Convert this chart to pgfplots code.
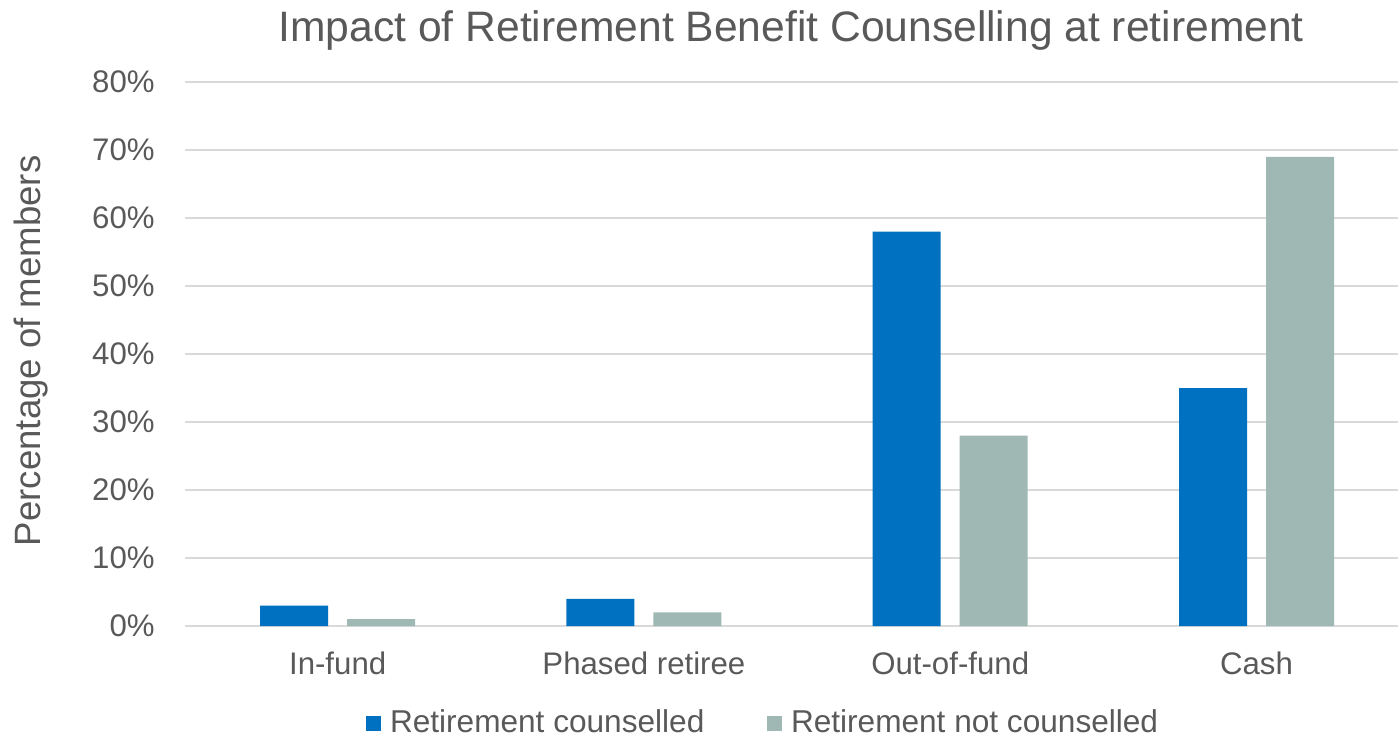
\documentclass[border=0pt]{standalone}
\usepackage{pgfplots}
\pgfplotsset{compat=1.18}
\usepackage{fontspec}
\setmainfont{Liberation Sans}
\definecolor{cblue}{HTML}{0070C0}
\definecolor{cgrey}{HTML}{9FB8B4}
\definecolor{txt}{HTML}{595959}
\definecolor{gridc}{HTML}{D9D9D9}
\begin{document}
\begin{tikzpicture}
\path[use as bounding box] (0,0) rectangle (699pt,367.5pt);
\begin{axis}[
  at={(92.25pt,54.5pt)}, anchor=south west,
  scale only axis, width=606.75pt, height=272pt,
  xmin=-0.5, xmax=3.462, ymin=0, ymax=80,
  ybar=9.5pt, bar width=34pt,
  xtick={0,1,2,3},
  xticklabels={In-fund,Phased retiree,Out-of-fund,Cash},
  ytick={0,10,...,80},
  yticklabel={\pgfmathprintnumber{\tick}\%},
  /pgf/number format/assume math mode=true,
  major tick length=0pt,
  axis line style={draw=none},
  ymajorgrids, major grid style={color=gridc, line width=0.75pt},
  tick label style={font=\fontsize{15.6}{18}\selectfont, text=txt},
  xticklabel style={anchor=north, inner sep=0pt, yshift=-12.85pt},
  yticklabel style={anchor=east, inner sep=0pt, xshift=-14.75pt},
  ylabel={Percentage of members},
  ylabel style={at={(axis description cs:0,0.506)}, anchor=base, yshift=72pt, font=\fontsize{18.3}{22}\selectfont, text=txt, inner sep=0pt},
  title={Impact of Retirement Benefit Counselling at retirement},
  every axis title shift=0pt,
  title style={at={(axis description cs:0.5,1)}, anchor=base, yshift=20.15pt, font=\fontsize{21.3}{25}\selectfont, text=txt, inner sep=0pt},
  legend columns=2,
  legend image code/.code={\fill[#1] (0pt,-4.5pt) rectangle (7.5pt,3pt);},
  legend style={draw=none, fill=none, inner sep=0pt, outer sep=0pt,
    at={(axis description cs:0,0)}, anchor=south west, xshift=90.75pt, yshift=-54.6pt,
    font=\fontsize{15.8}{18}\selectfont, text=txt,
    nodes={inner sep=0pt},
    /tikz/every odd column/.append style={column sep=4.5pt},
    /tikz/every even column/.append style={column sep=31.3pt}},
]
\addplot[fill=cblue, draw=none] coordinates {(0,3) (1,4) (2,58) (3,35)};
\addplot[fill=cgrey, draw=none] coordinates {(0,1) (1,2) (2,28) (3,69)};
\legend{Retirement counselled, Retirement not counselled}
\end{axis}
\end{tikzpicture}
\end{document}
